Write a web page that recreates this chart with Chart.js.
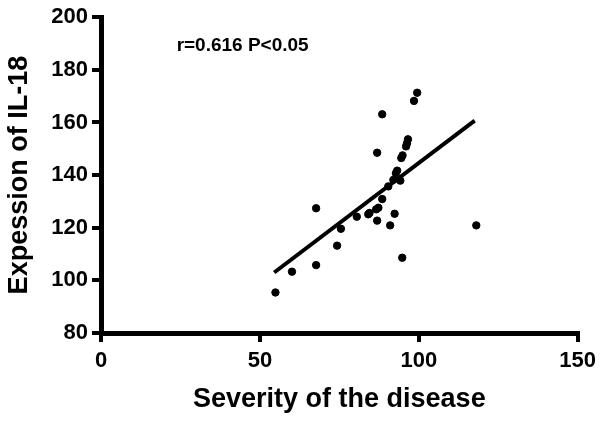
<!DOCTYPE html>
<html>
<head>
<meta charset="utf-8">
<script src="https://cdn.jsdelivr.net/npm/chart.js@4.4.1/dist/chart.umd.min.js"></script>
<style>
  html, body { margin: 0; padding: 0; background: #fff; }
  #wrap { width: 602px; height: 423px; }
</style>
</head>
<body>
<div id="wrap"><canvas id="scatter_chart"></canvas></div>
<script>
// severity score vs IL-18 expression
const severity = [54.9, 60.1, 67.7, 67.7, 74.3, 75.5, 80.5, 84.1, 84.5, 86.6, 86.9, 86.9, 87.3,
  88.5, 88.5, 90.4, 91.0, 92.0, 92.4, 92.8, 93.2, 94.2, 94.5, 94.8, 94.9, 96.0, 96.3, 96.6,
  98.5, 99.5, 118.1];
const il18 = [95.4, 103.3, 127.4, 105.8, 113.2, 119.6, 124.2, 125.1, 125.6, 127.0, 148.5, 122.7, 127.6,
  163.1, 130.9, 135.7, 120.9, 138.2, 125.3, 140.7, 141.7, 137.9, 146.5, 108.6, 147.5, 150.9, 152.1, 153.6,
  168.2, 171.3, 120.9];

// fitted line ends
const fit_x = [54.5, 117.6];
const fit_y = [103.0, 160.7];

const x_ticks = [0, 50, 100, 150];
const y_ticks = [80, 100, 120, 140, 160, 180, 200];
const note_text = "r=0.616 P<0.05";
const note_pos = [23.8, 189.0];

const points = severity.map((v, i) => ({ x: v, y: il18[i] }));
const fit_points = fit_x.map((v, i) => ({ x: v, y: fit_y[i] }));

const font_family = "'Liberation Sans', Arial, sans-serif";

const notePlugin = {
  id: "note",
  afterDraw(chart) {
    const ctx = chart.ctx;
    const xs = chart.scales.x, ys = chart.scales.y;
    ctx.save();
    ctx.font = "bold 19px " + font_family;
    ctx.fillStyle = "#000";
    ctx.textAlign = "left";
    ctx.textBaseline = "middle";
    ctx.fillText(note_text, xs.getPixelForValue(note_pos[0]), ys.getPixelForValue(note_pos[1]));
    ctx.restore();
  },
};

const axis_grid = {
  display: true,
  drawOnChartArea: false,
  drawTicks: true,
  color: "#000",
  lineWidth: 4,
  tickColor: "#000",
  tickWidth: 4,
  tickLength: 9,
};

const scatter_ctx = document.getElementById("scatter_chart");
const scatter_chart = new Chart(scatter_ctx, {
  type: "scatter",
  data: {
    datasets: [
      {
        data: points,
        backgroundColor: "#000",
        borderColor: "#000",
        pointRadius: 3.7,
        pointHoverRadius: 3.7,
      },
      {
        type: "line",
        data: fit_points,
        borderColor: "#000",
        borderWidth: 4,
        pointRadius: 0,
        fill: false,
      },
    ],
  },
  options: {
    responsive: true,
    maintainAspectRatio: false,
    animation: false,
    layout: { padding: { left: 0, right: 21, top: 16, bottom: 0 } },
    plugins: {
      legend: { display: false },
      tooltip: { enabled: false },
    },
    scales: {
      x: {
        type: "linear",
        min: 0,
        max: 150,
        afterBuildTicks: (s) => { s.ticks = x_ticks.map((v) => ({ value: v })); },
        afterFit: (s) => { s.height = 90; },
        border: { display: true, color: "#000", width: 5 },
        grid: axis_grid,
        ticks: {
          color: "#000",
          font: { family: font_family, size: 22, weight: "bold" },
          padding: 6,
          maxRotation: 0,
        },
        title: {
          display: true,
          text: "Severity of the disease",
          color: "#000",
          font: { family: font_family, size: 27, weight: "bold" },
          padding: { top: 4, bottom: 7 },
        },
      },
      y: {
        type: "linear",
        min: 80,
        max: 200,
        afterBuildTicks: (s) => { s.ticks = y_ticks.map((v) => ({ value: v })); },
        afterFit: (s) => { s.width = 101; },
        border: { display: true, color: "#000", width: 5 },
        grid: axis_grid,
        ticks: {
          color: "#000",
          font: { family: font_family, size: 22, weight: "bold" },
          padding: 4,
        },
        title: {
          display: true,
          text: "Expession of IL-18",
          color: "#000",
          font: { family: font_family, size: 27, weight: "bold" },
          padding: { top: 3, bottom: 4 },
        },
      },
    },
  },
  plugins: [notePlugin],
});
</script>
</body>
</html>
